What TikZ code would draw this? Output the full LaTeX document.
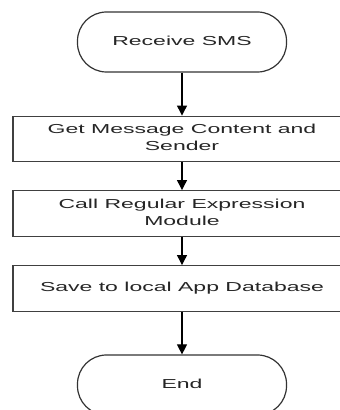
\documentclass[tikz,border=0pt]{standalone}
\usepackage{fontspec}
\setmainfont{Liberation Sans}
\usetikzlibrary{arrows.meta}
\newcommand{\sxt}[1]{\scalebox{1.77}[1]{\begin{tabular}{@{}c@{}}#1\end{tabular}}}
\begin{document}
\begin{tikzpicture}[x=1pt,y=1pt,
  every node/.style={font=\fontsize{13}{17}\selectfont, text=black!85, inner sep=0pt},
  term/.style={draw=black!80, line width=1.2pt, rounded corners=29pt, minimum width=209pt, minimum height=60pt},
  procbox/.style={draw=black!75, line width=1.4pt, minimum width=338pt, minimum height=45.5pt},
  flow/.style={draw=black, line width=1.2pt, -{Triangle[width=10pt,length=10pt]}}]
\path[use as bounding box, clip] (0,0) rectangle (340,410);
\node[term] (start) at (182,368) {\sxt{Receive SMS}};
\node[procbox] (get) at (182,271) {\sxt{Get Message Content and\\Sender}};
\node[procbox] (call) at (182,196.5) {\sxt{Call Regular Expression\\Module}};
\node[procbox] (save) at (182,121.5) {\sxt{Save to local App Database}};
\node[term] (end) at (182,25) {\sxt{End}};
\draw[flow] (start) -- (get);
\draw[flow] (get) -- (call);
\draw[flow] (call) -- (save);
\draw[flow] (save) -- (end);
\end{tikzpicture}
\end{document}
